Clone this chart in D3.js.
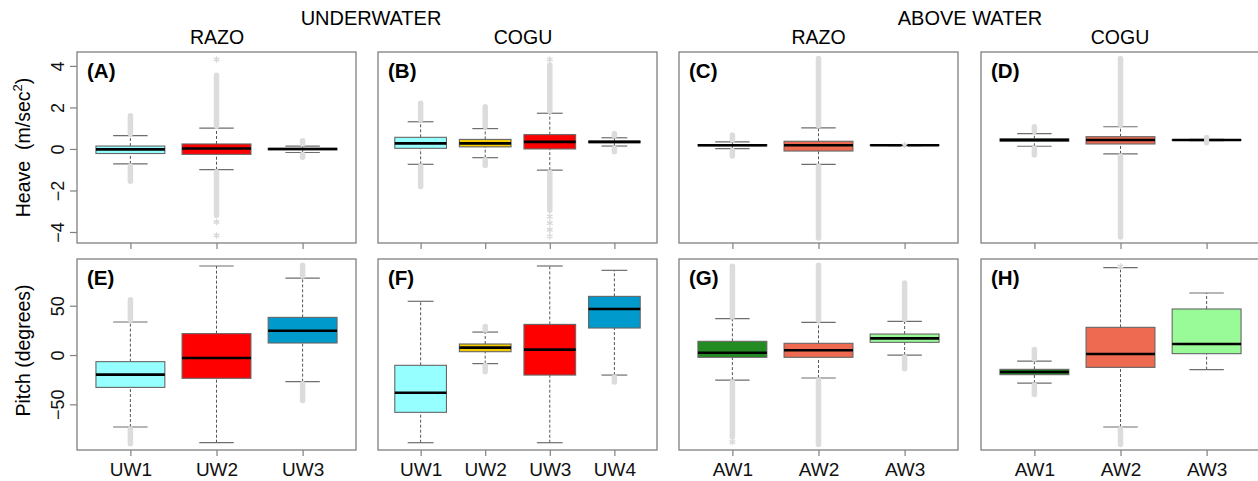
<!DOCTYPE html>
<html>
<head>
<meta charset="utf-8">
<script src="https://cdn.jsdelivr.net/npm/d3@7"></script>
<style>
  html, body { margin: 0; padding: 0; background: #fff; }
  svg { display: block; font-family: "Liberation Sans", Arial, sans-serif; }
</style>
</head>
<body>
<script>
// ---------------- DATA ----------------
const groupTitles = ["UNDERWATER", "ABOVE WATER"];
const siteTitles = ["RAZO", "COGU", "RAZO", "COGU"];
const panelLabels = ["(A)", "(B)", "(C)", "(D)", "(E)", "(F)", "(G)", "(H)"];
const yTitleHeave = "Heave  (m/sec";
const yTitlePitch = "Pitch (degrees)";
const heaveTicks = [-4, -2, 0, 2, 4];
const pitchTicks = [-50, 0, 50];

const catsUWRazo = ["UW1", "UW2", "UW3"];
const catsUWCogu = ["UW1", "UW2", "UW3", "UW4"];
const catsAW = ["AW1", "AW2", "AW3"];

const colUWRazo = ["#96FFFF", "#FF0000", "#009ACD"];
const colUWCogu = ["#96FFFF", "#F2CB00", "#FF0000", "#009ACD"];
const colAW = ["#228B22", "#EE6A50", "#98FB98"];

// stats: [lower whisker, Q1, median, Q3, upper whisker]
// out:   [lowest lower outlier, highest upper outlier] (null = none)
// pts:   isolated extreme outliers
// Heave
const statsA = [[-0.72, -0.22, -0.02, 0.14, 0.64], [-1.0, -0.26, 0.02, 0.24, 1.0], [-0.17, -0.04, 0.0, 0.03, 0.14]];
const outA = [[-1.55, 1.6], [-3.2, 3.55], [-0.4, 0.4]];
const ptsA = [[], [4.31, -3.52, -4.17], []];

const statsB = [[-0.74, 0.03, 0.27, 0.56, 1.31], [-0.42, 0.1, 0.27, 0.46, 0.98], [-1.02, 0.0, 0.34, 0.69, 1.72], [0.14, 0.3, 0.34, 0.38, 0.54]];
const outB = [[-1.81, 2.2], [-0.8, 2.03], [-2.95, 4.04], [-0.13, 0.75]];
const ptsB = [[], [], [4.31, -3.25, -3.57, -3.89, -4.21], []];

const statsC = [[0.02, 0.15, 0.18, 0.21, 0.34], [-0.74, -0.1, 0.18, 0.37, 1.02], [0.16, 0.17, 0.18, 0.19, 0.2]];
const outC = [[-0.34, 0.67], [-4.29, 4.36], [null, null]];
const ptsC = [[], [], [0.18]];

const statsD = [[0.13, 0.37, 0.43, 0.49, 0.74], [-0.24, 0.24, 0.43, 0.59, 1.07], [0.4, 0.42, 0.43, 0.44, 0.46]];
const outD = [[-0.29, 1.07], [-4.24, 4.36], [0.35, 0.52]];
const ptsD = [[], [], []];

// Pitch
const statsE = [[-73, -32.8, -19.9, -6.7, 33.5], [-88.9, -23.6, -3, 21.7, 90.3], [-27, 12.2, 24.7, 38.2, 78.1]];
const outE = [[-90, 56], [null, null], [-46, 91]];
const ptsE = [[], [], []];

const statsF = [[-88.9, -58.1, -38.2, -10.4, 54.5], [-8.7, 3.4, 7.5, 11.2, 23.3], [-88.9, -20.3, 5.5, 31.1, 90.3], [-20.3, 27.4, 46.7, 59.5, 85.9]];
const outF = [[null, null], [-17, 29], [null, null], [-27.4, null]];
const ptsF = [[], [], [], []];

const statsG = [[-25.4, -2.3, 2.4, 13.9, 36.9], [-23.3, -2.3, 4.8, 11.9, 33.2], [0, 12.9, 16.9, 21.3, 34.2]];
const outG = [[-83, 90], [-90.6, 91], [-13.8, 73]];
const ptsG = [[-88.2], [], []];

const statsH = [[-28.4, -19.9, -17.2, -14.5, -6.1], [-73, -12.5, 1, 28.1, 88.6], [-14.8, 1.4, 11.2, 46.7, 62.9]];
const outH = [[-39.9, 5.5], [-90.6, null], [null, null]];
const ptsH = [[], [89.8], []];

// ---------------- LAYOUT ----------------
const W = 1258, H = 481;
const panelW = 279;
const colLeft = [77, 378, 679, 981];
const rows = [
  { y0: 52, y1: 243, domain: [-4.53, 4.67], ticks: heaveTicks },
  { y0: 259, y1: 450, domain: [-96.3, 97.4], ticks: pitchTicks }
];
const frameColor = "#808080";
const FF = "'Liberation Sans', Arial, sans-serif";

const panels = [
  { cats: catsUWRazo, colors: colUWRazo, stats: statsA, out: outA, pts: ptsA, col: 0, row: 0 },
  { cats: catsUWCogu, colors: colUWCogu, stats: statsB, out: outB, pts: ptsB, col: 1, row: 0 },
  { cats: catsAW, colors: colAW, stats: statsC, out: outC, pts: ptsC, col: 2, row: 0 },
  { cats: catsAW, colors: colAW, stats: statsD, out: outD, pts: ptsD, col: 3, row: 0 },
  { cats: catsUWRazo, colors: colUWRazo, stats: statsE, out: outE, pts: ptsE, col: 0, row: 1 },
  { cats: catsUWCogu, colors: colUWCogu, stats: statsF, out: outF, pts: ptsF, col: 1, row: 1 },
  { cats: catsAW, colors: colAW, stats: statsG, out: outG, pts: ptsG, col: 2, row: 1 },
  { cats: catsAW, colors: colAW, stats: statsH, out: outH, pts: ptsH, col: 3, row: 1 }
];

const svg = d3.select("body").append("svg").attr("width", W).attr("height", H);
svg.append("rect").attr("width", W).attr("height", H).attr("fill", "#fff");

// titles
svg.append("text").attr("x", 371).attr("y", 25).attr("text-anchor", "middle")
  .attr("font-size", 20).text(groupTitles[0]);
svg.append("text").attr("x", 970).attr("y", 25).attr("text-anchor", "middle")
  .attr("font-size", 20).text(groupTitles[1]);
const siteCenters = [217, 523, 818.5, 1120];
siteTitles.forEach((t, i) => {
  svg.append("text").attr("x", siteCenters[i]).attr("y", 44).attr("text-anchor", "middle")
    .attr("font-size", 19.5).text(t);
});

// y titles
const yt1 = svg.append("text")
  .attr("transform", `translate(30,${(rows[0].y0 + rows[0].y1) / 2}) rotate(-90)`)
  .attr("text-anchor", "middle").attr("font-size", 19.5).attr("xml:space", "preserve");
yt1.append("tspan").text(yTitleHeave);
yt1.append("tspan").attr("font-size", 13).attr("dy", -8).text("2");
yt1.append("tspan").attr("dy", 8).text(")");

svg.append("text")
  .attr("transform", `translate(30,${(rows[1].y0 + rows[1].y1) / 2 - 4}) rotate(-90)`)
  .attr("text-anchor", "middle").attr("font-size", 19.5).text(yTitlePitch);

const star = d3.symbol().type(d3.symbolAsterisk).size(30);

panels.forEach((p, pi) => {
  const r = rows[p.row];
  const n = p.cats.length;
  const x0 = colLeft[p.col];
  const x = d3.scaleLinear().domain([0.5 - 0.04 * n, n + 0.5 + 0.04 * n]).range([x0, x0 + panelW]);
  const y = d3.scaleLinear().domain(r.domain).range([r.y1, r.y0]);
  const g = svg.append("g");

  // x axis ticks
  const xa = g.append("g").attr("transform", `translate(0,${r.y1})`)
    .call(d3.axisBottom(x).tickValues(d3.range(1, n + 1))
      .tickFormat((d, i) => p.row === 1 ? p.cats[i] : "")
      .tickSize(6).tickPadding(6).tickSizeOuter(0));
  xa.select(".domain").remove();
  xa.selectAll(".tick line").attr("stroke", frameColor).attr("stroke-width", 1.2);
  xa.selectAll(".tick text").attr("font-size", 19).attr("fill", "#111")
    .attr("font-family", FF).attr("dy", "0.74em");

  // y axis
  if (p.col === 0) {
    const ya = g.append("g").attr("transform", `translate(${x0},0)`)
      .call(d3.axisLeft(y).tickValues(r.ticks).tickSize(7).tickSizeOuter(0).tickFormat(d3.format("d")));
    ya.select(".domain").remove();
    ya.selectAll(".tick line").attr("stroke", frameColor).attr("stroke-width", 1.2);
    ya.selectAll(".tick text")
      .attr("font-size", 18).attr("fill", "#111")
      .attr("font-family", FF)
      .attr("x", null).attr("dy", null)
      .attr("text-anchor", "middle")
      .attr("transform", "translate(-13,0) rotate(-90)");
  }

  const xs = d3.range(1, n + 1);
  const bw = 0.4, sw = 0.2;
  xs.forEach((xi, i) => {
    const s = p.stats[i];
    const cx = x(xi);
    g.append("line").attr("x1", cx).attr("x2", cx).attr("y1", y(s[3])).attr("y2", y(s[4]))
      .attr("stroke", "#555").attr("stroke-width", 1).attr("stroke-dasharray", "3,2");
    g.append("line").attr("x1", cx).attr("x2", cx).attr("y1", y(s[0])).attr("y2", y(s[1]))
      .attr("stroke", "#555").attr("stroke-width", 1).attr("stroke-dasharray", "3,2");
    [s[0], s[4]].forEach(v => {
      g.append("line").attr("x1", x(xi - sw)).attr("x2", x(xi + sw)).attr("y1", y(v)).attr("y2", y(v))
        .attr("stroke", "#6e6e6e").attr("stroke-width", 1.2);
    });
    g.append("rect").attr("x", x(xi - bw)).attr("width", x(xi + bw) - x(xi - bw))
      .attr("y", y(s[3])).attr("height", Math.max(0.1, y(s[1]) - y(s[3])))
      .attr("fill", p.colors[i]).attr("stroke", "#666").attr("stroke-width", 1.1);
    g.append("line").attr("x1", x(xi - bw)).attr("x2", x(xi + bw)).attr("y1", y(s[2])).attr("y2", y(s[2]))
      .attr("stroke", "#000").attr("stroke-width", 2.6);
  });
  xs.forEach((xi, i) => {
    const s = p.stats[i], o = p.out[i];
    const cx = x(xi);
    if (o[0] !== null) {
      g.append("line").attr("x1", cx).attr("x2", cx).attr("y1", y(s[0]) + 2).attr("y2", y(o[0]))
        .attr("stroke", "#dcdcdc").attr("stroke-width", 5.5).attr("stroke-linecap", "round");
    }
    if (o[1] !== null) {
      g.append("line").attr("x1", cx).attr("x2", cx).attr("y1", y(s[4]) - 2).attr("y2", y(o[1]))
        .attr("stroke", "#dcdcdc").attr("stroke-width", 5.5).attr("stroke-linecap", "round");
    }
    p.pts[i].forEach(v => {
      g.append("path").attr("d", star).attr("transform", `translate(${cx},${y(v)})`)
        .attr("fill", "none").attr("stroke", "#d8d8d8").attr("stroke-width", 1.3);
    });
  });

  g.append("rect").attr("x", x0).attr("y", r.y0).attr("width", panelW).attr("height", r.y1 - r.y0)
    .attr("fill", "none").attr("stroke", frameColor).attr("stroke-width", 1.3);

  g.append("text").attr("x", x0 + 10).attr("y", r.y0 + 26)
    .attr("font-size", 20.5).attr("font-weight", "bold").text(panelLabels[pi]);
});
</script>
</body>
</html>
